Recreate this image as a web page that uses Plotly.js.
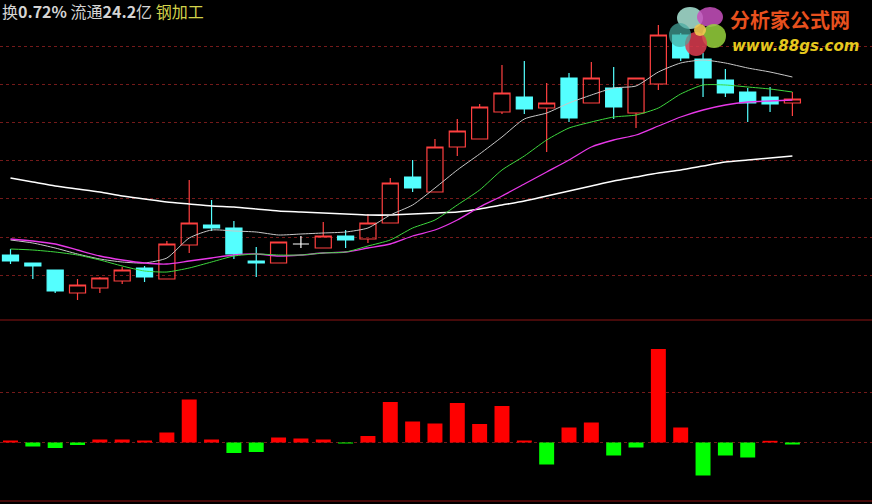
<!DOCTYPE html>
<html>
<head>
<meta charset="utf-8">
<script src="https://cdn.plot.ly/plotly-3.0.1.min.js"></script>
<style>
html,body{margin:0;padding:0;background:#000;}
#chart{width:872px;height:504px;}
</style>
</head>
<body>
<div id="chart"></div>
<script>
// ---- data ----
const days = [0,1,2,3,4,5,6,7,8,9,10,11,12,13,14,15,16,17,18,19,20,21,22,23,24,25,26,27,28,29,30,31,32,33,34,35];
const openP  = [7.625,7.425,7.25,6.675,6.80,6.975,7.30,7.025,7.875,8.375,8.30,7.475,7.425,7.90,7.80,8.10,8.025,8.425,9.575,9.20,10.325,10.525,11.20,11.575,11.30,12.05,11.425,11.80,11.175,11.90,13.125,12.525,12.00,11.70,11.575,11.425];
const highP  = [7.775,7.425,7.25,7.025,7.075,7.325,7.35,7.975,9.50,9.00,8.475,7.825,7.95,8.10,8.45,8.25,8.65,9.55,10.00,10.525,11.025,11.40,12.375,12.475,11.925,12.175,12.45,12.325,12.05,13.375,13.175,12.675,12.275,11.80,11.825,11.70];
const lowP   = [7.40,7.025,6.675,6.50,6.675,6.90,6.95,7.025,7.675,8.225,7.525,7.075,7.425,7.80,7.80,7.80,7.925,8.425,9.20,9.20,10.10,10.525,11.15,11.15,10.20,10.95,11.425,11.025,10.80,11.75,12.475,11.575,11.575,10.95,11.20,11.10];
const closeP = [7.475,7.35,6.725,6.875,7.05,7.25,7.075,7.90,8.425,8.30,7.65,7.425,7.95,7.90,8.10,8.00,8.425,9.425,9.30,10.325,10.725,11.325,11.675,11.275,11.425,11.05,12.05,11.325,12.05,13.125,12.55,12.05,11.675,11.425,11.40,11.525];

const maLong   = [9.55,9.45,9.35,9.275,9.20,9.10,9.025,8.95,8.90,8.85,8.825,8.775,8.725,8.70,8.675,8.65,8.625,8.625,8.65,8.675,8.70,8.775,8.875,8.975,9.10,9.225,9.35,9.475,9.575,9.675,9.75,9.85,9.95,10.00,10.05,10.10];
const maThin   = [8.00,7.925,7.80,7.65,7.525,7.45,7.425,7.55,8.05,8.25,8.225,8.20,8.125,8.15,8.175,8.20,8.30,8.625,8.875,9.30,9.75,10.15,10.575,11.025,11.175,11.425,11.625,11.80,11.85,12.20,12.425,12.50,12.425,12.30,12.20,12.075];
const maGreen  = [7.775,7.75,7.70,7.625,7.50,7.35,7.225,7.20,7.30,7.45,7.60,7.65,7.625,7.625,7.675,7.70,7.85,8.00,8.30,8.50,8.875,9.25,9.75,10.10,10.50,10.80,10.95,11.075,11.125,11.30,11.65,11.875,11.875,11.825,11.775,11.70];
const maPurple = [8.025,7.975,7.90,7.75,7.60,7.50,7.425,7.40,7.475,7.55,7.625,7.65,7.60,7.625,7.675,7.70,7.80,7.90,8.10,8.25,8.50,8.825,9.10,9.40,9.70,10.00,10.325,10.50,10.625,10.85,11.075,11.25,11.375,11.45,11.475,11.50];

const histVals = [0.2,-0.4,-0.55,-0.25,0.3,0.3,0.2,1.0,4.3,0.3,-1.05,-0.95,0.5,0.4,0.3,-0.1,0.65,4.05,2.1,1.9,3.95,1.85,3.65,0.2,-2.2,1.5,2.0,-1.3,-0.5,9.35,1.5,-3.3,-1.3,-1.5,0.17,-0.2];

const gridTop = [12.8375,11.885,10.9325,9.98,9.0275,8.075,7.1225];
const gridBottom = [0,5];

// ---- build traces ----
const W = 872, H = 504;
const splitY = 320; // px where panels split
const topDomain = [1 - splitY / H, 1];
const botDomain = [0, 1 - splitY / H];

const norm = {x:[],o:[],h:[],l:[],c:[]};
const doji = {x:[],o:[],h:[],l:[],c:[]};
days.forEach((d,i)=>{
  const t = (openP[i] === closeP[i]) ? doji : norm;
  t.x.push(d); t.o.push(openP[i]); t.h.push(highP[i]); t.l.push(lowP[i]); t.c.push(closeP[i]);
});

function maTrace(vals, color, width){
  return {type:'scatter', mode:'lines', x:days, y:vals, xaxis:'x', yaxis:'y',
    line:{color:color, width:width, shape:'spline', smoothing:0.6}, hoverinfo:'skip', showlegend:false};
}

const traces = [
  maTrace(maLong, '#ffffff', 1.6),
  maTrace(maThin, '#c8c8c8', 1),
  maTrace(maPurple, '#e838e8', 1.3),
  maTrace(maGreen, '#3ed83e', 1),
  {type:'candlestick', x:norm.x, open:norm.o, high:norm.h, low:norm.l, close:norm.c,
   xaxis:'x', yaxis:'y', whiskerwidth:0, showlegend:false, hoverinfo:'skip',
   increasing:{line:{color:'#ff4040', width:1.2}, fillcolor:'rgba(0,0,0,0)'},
   decreasing:{line:{color:'#54ffff', width:1.2}, fillcolor:'#54ffff'}},
  {type:'candlestick', x:doji.x, open:doji.o, high:doji.h, low:doji.l, close:doji.c,
   xaxis:'x', yaxis:'y', whiskerwidth:0, showlegend:false, hoverinfo:'skip',
   increasing:{line:{color:'#ffffff', width:1.2}, fillcolor:'#ffffff'},
   decreasing:{line:{color:'#ffffff', width:1.2}, fillcolor:'#ffffff'}},
  {type:'bar', x:days, y:histVals, xaxis:'x', yaxis:'y2', width:0.67,
   marker:{color:histVals.map(v=> v>=0 ? '#ff0000' : '#00ff00'), line:{width:0}},
   showlegend:false, hoverinfo:'skip'}
];

// ---- layout ----
const xLeft = -10.5/22.34, xRight = (W-10.5)/22.34;
const px = v => v / W, py = v => 1 - v / H;

const logoPetals = [
  {cx:690, cy:18, rx:13, ry:11, c:'rgba(170,230,215,0.85)'},
  {cx:710, cy:17, rx:13, ry:10, c:'rgba(200,80,190,0.85)'},
  {cx:714, cy:36, rx:12, ry:12, c:'rgba(150,210,60,0.85)'},
  {cx:696, cy:44, rx:11, ry:12, c:'rgba(220,60,80,0.85)'},
  {cx:680, cy:35, rx:11, ry:12, c:'rgba(70,170,160,0.7)'},
  {cx:700, cy:30, rx:6, ry:6, c:'rgba(240,200,80,0.9)'}
];
const shapes = [
  {type:'line', xref:'paper', yref:'paper', x0:0, x1:1, y0:py(320), y1:py(320), line:{color:'#8c1414', width:1.2}},
  {type:'line', xref:'paper', yref:'paper', x0:0, x1:1, y0:py(501), y1:py(501), line:{color:'#8c1414', width:1.2}}
];
logoPetals.forEach(p=>{
  shapes.push({type:'circle', xref:'paper', yref:'paper', layer:'above',
    x0:px(p.cx-p.rx), x1:px(p.cx+p.rx), y0:py(p.cy+p.ry), y1:py(p.cy-p.ry),
    fillcolor:p.c, line:{width:0}});
});

const layout = {
  width:W, height:H,
  paper_bgcolor:'#000', plot_bgcolor:'#000',
  margin:{l:0,r:0,t:0,b:0},
  showlegend:false,
  boxgap:0.28, boxgroupgap:0,
  xaxis:{range:[xLeft, xRight], showgrid:false, zeroline:false, showticklabels:false, ticks:'',
         rangeslider:{visible:false}, anchor:'y2', fixedrange:true},
  yaxis:{domain:topDomain, range:[14 - splitY/40, 14], tickvals:gridTop, showticklabels:false, ticks:'',
         showgrid:true, gridcolor:'#741a1a', griddash:'dot', gridwidth:1, zeroline:false, fixedrange:true},
  yaxis2:{domain:botDomain, range:[-(H-442.5)/10, (442.5-splitY)/10], tickvals:gridBottom, showticklabels:false, ticks:'',
         showgrid:true, gridcolor:'#741a1a', griddash:'dot', gridwidth:1, zeroline:false, fixedrange:true},
  shapes:shapes,
  annotations:[
    {xref:'paper', yref:'paper', x:0, y:1, xanchor:'left', yanchor:'top', yshift:3, showarrow:false,
     text:'换<b>0.72%</b> 流通<b>24.2</b>亿 <span style="color:#d2d24a">钢加工</span>',
     font:{family:'"Noto Sans CJK SC", "Noto Sans", sans-serif', size:16, color:'#d4d4d4'}},
    {xref:'paper', yref:'paper', x:px(729), y:py(4), xanchor:'left', yanchor:'top', showarrow:false, borderpad:0,
     text:'<b>分析家公式网</b>',
     font:{family:'"Noto Sans CJK SC", sans-serif', size:20, color:'#e8501e'}},
    {xref:'paper', yref:'paper', x:px(731), y:py(36), xanchor:'left', yanchor:'top', showarrow:false, borderpad:0,
     text:'<b><i>www.88gs.com</i></b>',
     font:{family:'"DejaVu Sans", sans-serif', size:15, color:'#e6c81e'}}
  ]
};

Plotly.newPlot('chart', traces, layout, {staticPlot:true, displayModeBar:false});
</script>
</body>
</html>
